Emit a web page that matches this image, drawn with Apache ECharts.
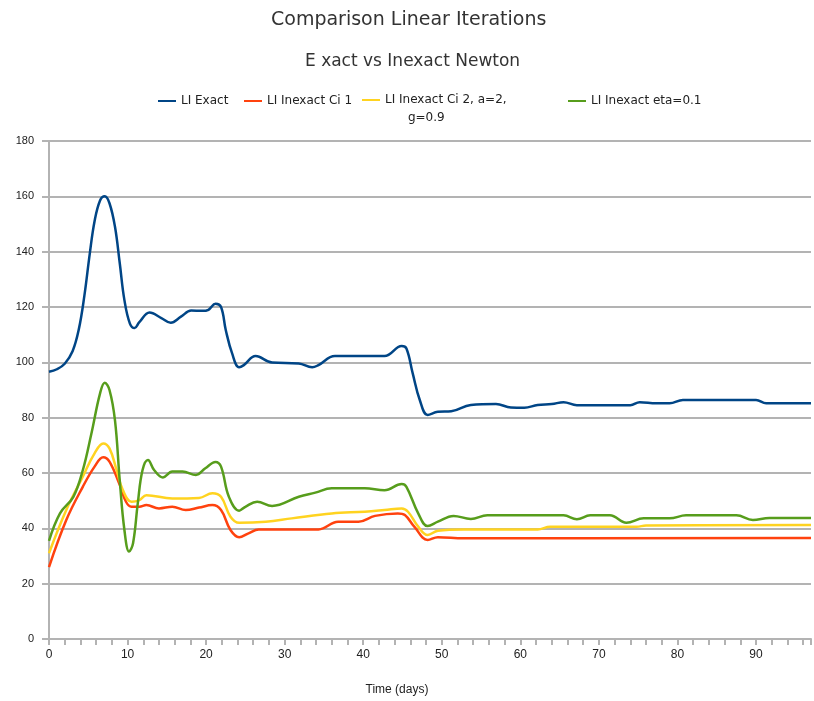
<!DOCTYPE html>
<html>
<head>
<meta charset="utf-8">
<script src="https://cdn.jsdelivr.net/npm/echarts@6/dist/echarts.min.js"></script>
<style>
  html, body { margin: 0; padding: 0; background: #fff; }
  #chart { width: 814px; height: 701px; }
</style>
</head>
<body>
<div id="chart"></div>
<script>
// series names as in the legend
const names = ['LI Exact', 'LI Inexact Ci 1', 'LI Inexact Ci 2, a=2, g=0.9', 'LI Inexact eta=0.1'];

// [time (days), linear iterations]
const exact = [
  [0, 96.6], [1, 97.5], [2, 99.5], [3, 104], [3.8, 112], [4.5, 124], [5.2, 139.5], [5.8, 151],
  [6.5, 158.5], [7.1, 160], [7.7, 157.5], [8.4, 149], [9.0, 136], [9.6, 122.5], [10.3, 114],
  [10.9, 112.4], [11.5, 114.5], [12.8, 118], [14.3, 116], [15.5, 114.3], [16.8, 116.5],
  [18.1, 118.7], [19.5, 118.6], [20.3, 119], [21.2, 121.2], [21.9, 120], [22.5, 111.7],
  [23.3, 103.3], [24.2, 98.2], [24.8, 99], [26.3, 102.3], [28.4, 99.9], [31.8, 99.6],
  [33.5, 98.2], [34.3, 99], [36.4, 102.3], [42.7, 102.3], [44.9, 105.9], [45.5, 105],
  [46.3, 96], [47.2, 86.4], [48.2, 81], [49.5, 82.1], [51.2, 82.3], [53.7, 84.6], [56.9, 84.9],
  [58.8, 83.7], [60.5, 83.6], [62.2, 84.6], [64, 84.9], [65.5, 85.6], [67.2, 84.5], [74, 84.5],
  [75.2, 85.6], [77.3, 85.2], [79, 85.2], [80.7, 86.4], [90, 86.4], [91.3, 85.2], [97, 85.2]
];
const inexactCi1 = [
  [0, 26], [2.2, 43], [4.3, 55], [5.8, 62.3], [6.9, 65.7], [7.7, 64.1], [9, 55.7], [9.8, 49.6],
  [10.5, 47.8], [11.5, 47.8], [12.4, 48.4], [14, 47.2], [15.7, 47.8], [17.4, 46.6], [19.1, 47.5],
  [20.8, 48.4], [21.9, 46.6], [23.1, 39.4], [24.2, 36.8], [25.4, 38.2], [26.7, 39.6], [34.3, 39.6],
  [36.8, 42.4], [39.4, 42.4], [41.5, 44.5], [44.4, 45.4], [45.3, 44.8], [46.5, 40.6], [48.2, 35.8],
  [49.5, 36.8], [52.8, 36.4], [97, 36.5]
];
const inexactCi2 = [
  [0, 31], [2.2, 46.6], [4.3, 58.7], [5.8, 67.1], [6.9, 70.7], [7.7, 68.9], [8.6, 61.1], [9.4, 53.8],
  [10.5, 49.6], [11.5, 50.2], [12.4, 52], [15.7, 50.8], [19.1, 51], [20.8, 52.7], [21.9, 51.4],
  [23.1, 44.2], [24.2, 42], [27.6, 42.4], [30.9, 43.6], [36, 45.4], [40.2, 46], [42.7, 46.6],
  [44.9, 47.2], [45.7, 46], [47, 40.6], [48.2, 37.6], [49.5, 39.1], [52.8, 39.6], [62.2, 39.6],
  [63.8, 40.6], [74.8, 40.6], [76, 41], [97, 41.2]
];
const inexactEta = [
  [0, 35.5], [1.4, 45.4], [3.1, 51.4], [4.3, 61], [5.4, 74.3], [6.5, 88.8], [7.1, 92.6], [7.7, 90],
  [8.4, 79], [9.0, 57.5], [9.6, 39.4], [10.2, 31.6], [10.7, 34.6], [11.3, 49], [11.9, 61],
  [12.6, 64.7], [13.4, 61], [14.5, 58.4], [15.7, 60.5], [17, 60.5], [18.7, 59.3], [19.9, 61.7],
  [21.2, 64], [21.9, 62.3], [22.9, 51.4], [24.2, 46.4], [25, 47.8], [26.5, 49.6], [28.4, 48.1],
  [31.8, 51.4], [33.9, 52.9], [36, 54.5], [40.2, 54.5], [42.7, 53.8], [44.9, 56], [45.5, 55],
  [47, 45.4], [48.2, 40.8], [49.5, 42.4], [51.5, 44.5], [53.7, 43.4], [55.8, 44.7], [65.5, 44.7],
  [67.2, 43.3], [68.9, 44.7], [71.4, 44.7], [73.5, 42], [75.7, 43.6], [79, 43.6], [81.1, 44.7],
  [87.5, 44.7], [89.6, 43], [91.7, 43.7], [97, 43.7]
];

const colors = ['#004586', '#ff420e', '#ffd320', '#579d1c'];
const allData = [exact, inexactCi1, inexactCi2, inexactEta];
const legendLeft = [158, 244, 362, 568];
const font = "'DejaVu Sans', sans-serif";
const gridGrey = '#b3b3b3';

const chart = echarts.init(document.getElementById('chart'));

const legendBase = {
  orient: 'horizontal',
  padding: 0,
  icon: 'rect',
  itemWidth: 18,
  itemHeight: 2,
  textStyle: { color: '#222', fontSize: 12, fontFamily: font, lineHeight: 18 }
};

chart.setOption({
  backgroundColor: '#fff',
  animation: false,
  color: colors,
  title: [
    { text: 'Comparison Linear Iterations', left: 266, top: 6,
      textStyle: { fontSize: 19, fontWeight: 'normal', color: '#333', fontFamily: font } },
    { text: 'E xact vs Inexact Newton', left: 300, top: 48,
      textStyle: { fontSize: 17, fontWeight: 'normal', color: '#333', fontFamily: font } }
  ],
  // one legend per item so each sits where it does in the picture
  legend: names.map((n, i) => Object.assign({}, legendBase, {
    left: legendLeft[i],
    top: i === 2 ? 73 : 92,
    data: [n],
    formatter: name => name === names[2] ? '\nLI Inexact Ci 2, a=2,\n      g=0.9' : name
  })),
  grid: { left: 49, right: 0, top: 141, bottom: 62 },
  xAxis: {
    type: 'value', min: 0, max: 97, interval: 2,
    axisLine: { show: true, lineStyle: { color: gridGrey, width: 2 } },
    axisTick: { show: true, length: 6, lineStyle: { color: gridGrey, width: 2 } },
    axisLabel: { color: '#222', fontSize: 12, margin: 10,
      formatter: v => (v % 10 === 0 ? String(v) : '') },
    splitLine: { show: false }
  },
  yAxis: {
    type: 'value', min: 0, max: 180, interval: 20,
    axisLine: { show: true, lineStyle: { color: gridGrey, width: 2 } },
    axisTick: { show: true, length: 7, lineStyle: { color: gridGrey, width: 2 } },
    axisLabel: { color: '#222', fontSize: 11, margin: 15 },
    splitLine: { show: true, lineStyle: { color: gridGrey, width: 2 } }
  },
  graphic: [{
    type: 'text', x: 397, y: 690,
    style: { text: 'Time (days)', fontSize: 12, fill: '#222',
      textAlign: 'center', textVerticalAlign: 'middle' }
  }],
  series: names.map((n, i) => ({
    name: n,
    type: 'line',
    data: allData[i],
    smooth: 0.4,
    showSymbol: false,
    lineStyle: { width: 2.5, color: colors[i] }
  }))
});
</script>
</body>
</html>
